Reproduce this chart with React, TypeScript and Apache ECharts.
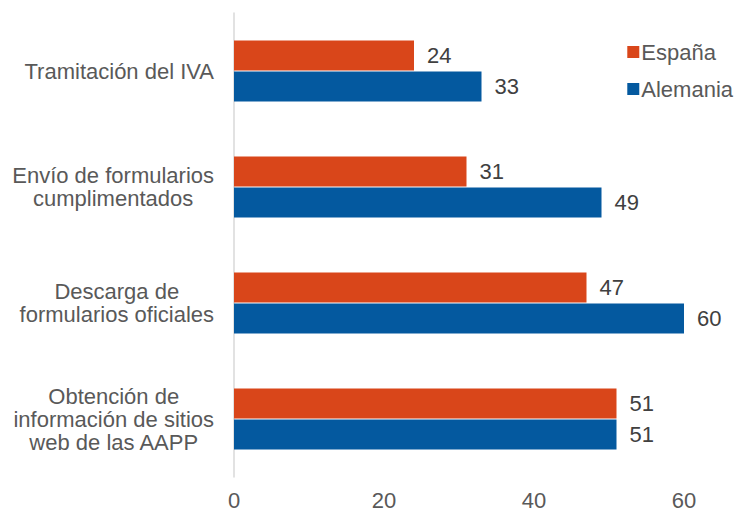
import React, { useEffect, useRef } from "react";
import * as echarts from "echarts";

const categories = [
  "Tramitación del IVA",
  "Envío de formularios\ncumplimentados",
  "Descarga de\nformularios oficiales",
  "Obtención de\ninformación de sitios\nweb de las AAPP",
];
const espana = [24, 31, 47, 51];
const alemania = [33, 49, 60, 51];
const xTicks = [0, 20, 40, 60];

export default function App() {
  const ref = useRef<HTMLDivElement>(null);
  useEffect(() => {
    if (!ref.current) return;
    const chart = echarts.init(ref.current, undefined, { renderer: "svg" });
    const font = "'Liberation Sans', Arial, sans-serif";
    const fs = 22;
    const labelCommon = {
      show: true,
      position: "right",
      distance: 13,
      color: "#404040",
      fontSize: fs,
      fontFamily: font,
    };
    chart.setOption({
      animation: false,
      textStyle: { fontFamily: font },
      grid: { left: 234, right: 55, top: 13, bottom: 34, containLabel: false },
      legend: {
        orient: "vertical",
        right: 1,
        top: 36,
        itemWidth: 12,
        itemHeight: 12,
        itemGap: 15,
        icon: "rect",
        textStyle: { color: "#595959", fontSize: fs, fontFamily: font, padding: [0, 0, 0, -3] },
        data: ["España", "Alemania"],
      },
      xAxis: {
        type: "value",
        min: xTicks[0],
        max: xTicks[xTicks.length - 1],
        interval: 20,
        axisLine: { show: false },
        axisTick: { show: false },
        splitLine: { show: false },
        axisLabel: { color: "#595959", fontSize: fs, margin: 12, fontFamily: font },
      },
      yAxis: {
        type: "category",
        inverse: true,
        data: categories,
        axisLine: { show: true, lineStyle: { color: "#D9D9D9", width: 1.5 } },
        axisTick: { show: false },
        axisLabel: {
          margin: 20,
          formatter: (v: string) =>
            v
              .split("\n")
              .map((l) => "{a|" + l + "}")
              .join("\n"),
          rich: {
            a: {
              color: "#595959",
              fontSize: fs,
              lineHeight: 23,
              fontFamily: font,
              align: "center",
            },
          },
        },
      },
      series: [
        {
          name: "España",
          type: "bar",
          data: espana,
          barWidth: 30,
          barGap: "3%",
          itemStyle: { color: "#D9461A" },
          label: labelCommon,
        },
        {
          name: "Alemania",
          type: "bar",
          data: alemania,
          barWidth: 30,
          barGap: "3%",
          itemStyle: { color: "#04599F" },
          label: labelCommon,
        },
      ],
    });
    return () => chart.dispose();
  }, []);
  return <div ref={ref} style={{ width: 739, height: 511, position: "absolute", left: 0, top: 0 }} />;
}
